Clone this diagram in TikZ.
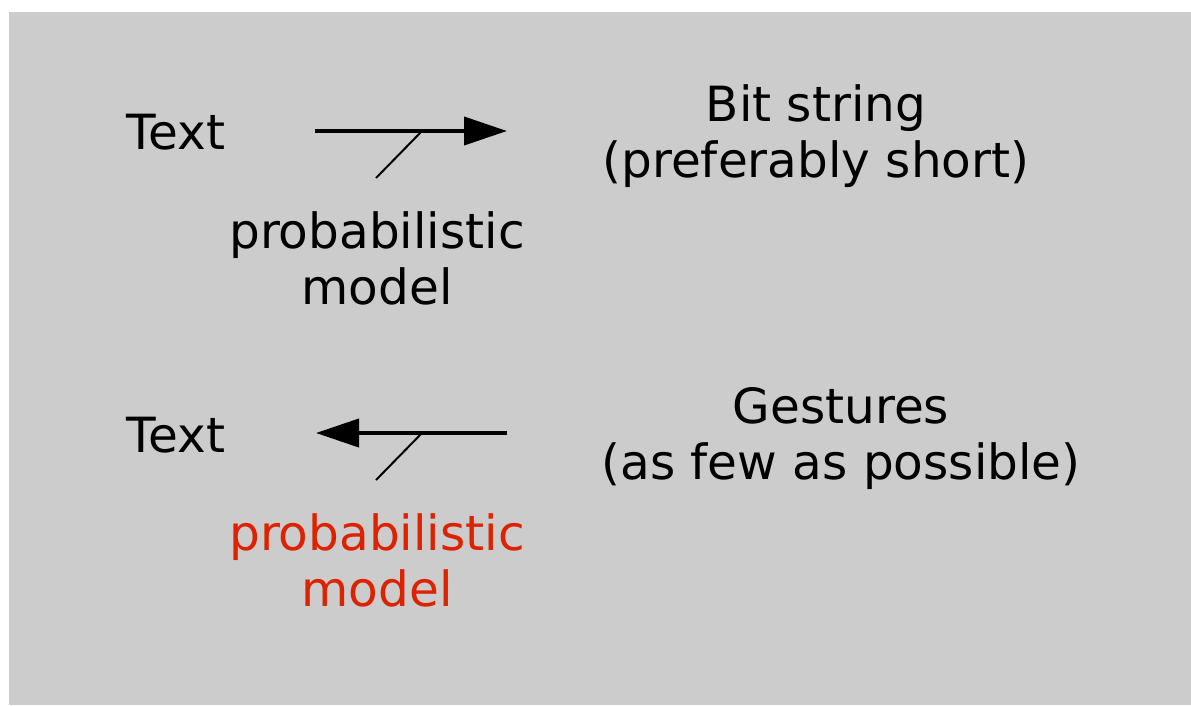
\documentclass[tikz,border=0pt]{standalone}
\usepackage{fontspec}
\setmainfont{DejaVu Sans}
\usetikzlibrary{arrows.meta}
\definecolor{panelgray}{RGB}{204,204,204}
\definecolor{modelred}{RGB}{221,34,0}
\tikzset{
  lbl/.style={inner sep=0pt, anchor=base, align=center,
    font=\fontsize{48.5}{56}\selectfont},
  flow/.style={line width=4pt, -{Triangle[length=43pt,width=28pt]}},
  tick/.style={line width=2pt},
}
\begin{document}
\begin{tikzpicture}[x=1pt,y=-1pt]
  \useasboundingbox (0,0) rectangle (1191,705);
  \fill[panelgray] (9,12) rectangle (1191,705);

  % encoding: text -> bit string
  \node[lbl] (text1) at (176,149) {Text};
  \coordinate (a1s) at (315,131);
  \coordinate (a1e) at (507,131);
  \draw[flow] (a1s) -- (a1e);
  \coordinate (t1a) at (376,178);
  \coordinate (t1b) at (422,131);
  \draw[tick] (t1a) -- (t1b);
  % multi-line labels are placed by the baseline of their last line
  \node[lbl] (model1) at (377,304) {probabilistic\\model};
  \node[lbl] (bits) at (816,177) {Bit string\\(preferably short)};

  % decoding: gestures -> text
  \node[lbl] (text2) at (176,452) {Text};
  \coordinate (a2s) at (507,433);
  \coordinate (a2e) at (316,433);
  \draw[flow] (a2s) -- (a2e);
  \coordinate (t2a) at (376,480);
  \coordinate (t2b) at (422,433);
  \draw[tick] (t2a) -- (t2b);
  \node[lbl, text=modelred] (model2) at (377,606) {probabilistic\\model};
  \node[lbl] (gest) at (841,479) {Gestures\\(as few as possible)};
\end{tikzpicture}
\end{document}
